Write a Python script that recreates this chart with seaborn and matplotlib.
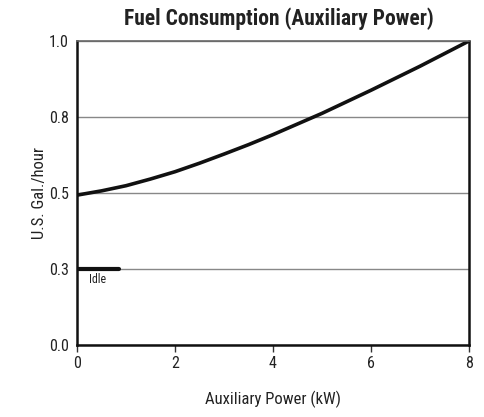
import matplotlib
matplotlib.use("Agg")
import matplotlib.pyplot as plt
import seaborn as sns
import pandas as pd
from matplotlib import font_manager

power_kw = [0, 0.5, 1, 1.5, 2, 2.5, 3, 3.5, 4, 5, 6, 7, 8]
gal_per_hour = [0.493, 0.507, 0.524, 0.546, 0.570, 0.598, 0.628, 0.659, 0.692, 0.762, 0.838, 0.917, 1.0]
idle_x = [0, 0.85]
idle_y = [0.25, 0.25]
y_ticks = [0.0, 0.25, 0.5, 0.75, 1.0]
y_tick_labels = ["0.0", "0.3", "0.5", "0.8", "1.0"]
x_ticks = [0, 2, 4, 6, 8]

sns.set_theme(style="white")
names = {f.name for f in font_manager.fontManager.ttflist}
fam = [f for f in ["Roboto Condensed", "Liberation Sans Narrow", "Roboto", "DejaVu Sans"] if f in names]
plt.rcParams['font.family'] = fam

fig = plt.figure(figsize=(4.85, 4.17), dpi=100)
ax = fig.add_axes([77/485, 1-345/417, (469-77)/485, (345-41)/417])

df = pd.DataFrame({"x": power_kw, "y": gal_per_hour})
sns.lineplot(data=df, x="x", y="y", ax=ax, color="#111111", linewidth=2.6)
idle = pd.DataFrame({"x": idle_x, "y": idle_y})
sns.lineplot(data=idle, x="x", y="y", ax=ax, color="#111111", linewidth=3)
ax.text(0.25, 0.215, "Idle", fontsize=8.5, color="#222222", va="center")

ax.set_xlim(0, 8)
ax.set_ylim(0, 1)
ax.set_xticks(x_ticks)
ax.set_yticks(y_ticks)
ax.set_yticklabels(y_tick_labels)
ax.yaxis.grid(True, color="#888888", linewidth=1)
ax.xaxis.grid(False)
ax.set_axisbelow(True)
for s in ["left", "bottom", "right"]:
    ax.spines[s].set_color("#111111")
    ax.spines[s].set_linewidth(1.8)
ax.spines["top"].set_color("#666666")
ax.spines["top"].set_linewidth(1.2)
ax.tick_params(axis="x", length=5, width=1, color="#333333", labelsize=11.5, pad=3, bottom=True)
ax.tick_params(axis="y", length=0, labelsize=11.5, pad=6)
ax.set_xlabel("Auxiliary Power (kW)", fontsize=12, labelpad=14, color="#222222")
ax.set_ylabel("U.S. Gal./hour", fontsize=12, labelpad=1, color="#222222")
fig.text(0.575, 0.955, "Fuel Consumption (Auxiliary Power)", ha="center", va="center",
         fontsize=15.5, fontweight="bold", color="#222222")
for lbl in ax.get_xticklabels() + ax.get_yticklabels():
    lbl.set_color("#222222")
fig.savefig("out.png", dpi=100)
